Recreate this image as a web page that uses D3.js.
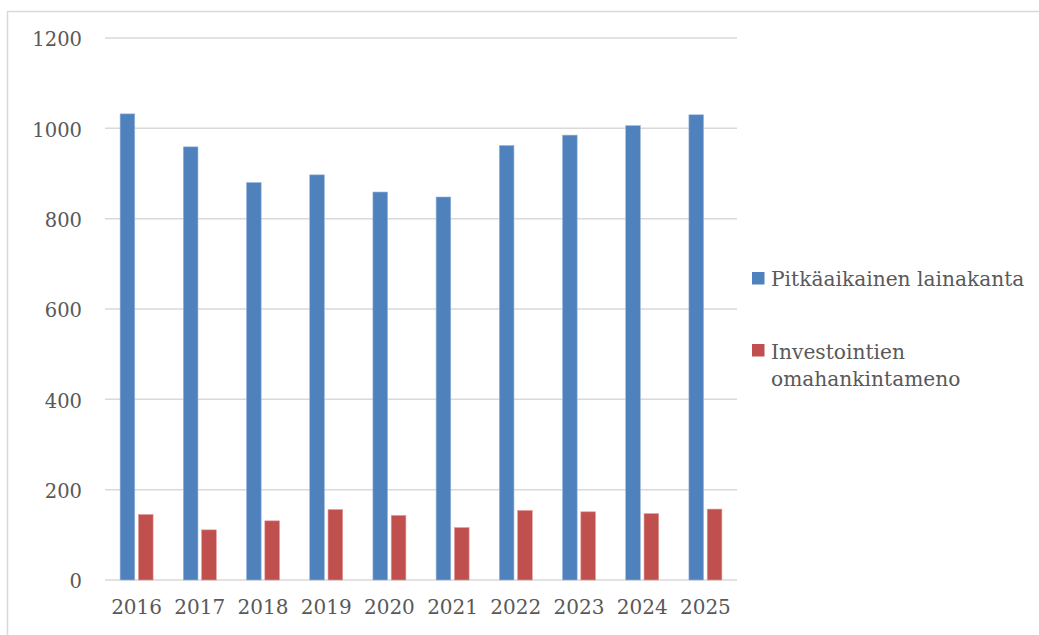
<!DOCTYPE html>
<html>
<head>
<meta charset="utf-8">
<script src="https://cdn.jsdelivr.net/npm/d3@7"></script>
<style>
  html, body { margin: 0; padding: 0; background: #fff; }
  svg { display: block; }
  text { font-family: "DejaVu Serif", serif; fill: #595959; }
</style>
</head>
<body>
<svg id="chart" width="1039" height="635"></svg>
<script>
const years = ["2016","2017","2018","2019","2020","2021","2022","2023","2024","2025"];
const seriesNames = ["Pitkäaikainen lainakanta", "Investointien omahankintameno"];
const lainakanta = [1032, 959, 880, 897, 859, 848, 962, 985, 1006, 1030];
const omahankinta = [145, 111, 131, 156, 143, 116, 154, 151, 147, 157];
const yTicks = [0, 200, 400, 600, 800, 1000, 1200];
const colors = ["#4f81bd", "#c0504d"];
const strokes = ["#9db7dc", "#e39a98"];

const svg = d3.select("#chart");

// outer border
svg.append("rect")
  .attr("x", 7.5).attr("y", 11.5)
  .attr("width", 1040).attr("height", 640)
  .attr("fill", "none").attr("stroke", "#d9d9d9").attr("stroke-width", 1.5);

const plotLeft = 105, plotRight = 737, plotTop = 38, plotBottom = 580;

const y = d3.scaleLinear().domain([0, 1200]).range([plotBottom, plotTop]);
const x0 = d3.scaleBand().domain(years).range([plotLeft, plotRight]).paddingInner(0.478).paddingOuter(0.239);
const x1 = d3.scaleBand().domain([0, 1]).range([0, x0.bandwidth()]).paddingInner(0.2);

// gridlines
svg.append("g").selectAll("line").data(yTicks).join("line")
  .attr("x1", plotLeft).attr("x2", plotRight)
  .attr("y1", d => y(d)).attr("y2", d => y(d))
  .attr("stroke", "#d9d9d9").attr("stroke-width", 1.5);

// y axis labels
const yAxis = d3.axisLeft(y).tickValues(yTicks).tickSize(0).tickPadding(23).tickFormat(d3.format("d"));
const gy = svg.append("g").attr("transform", `translate(${plotLeft},0)`).call(yAxis);
gy.select(".domain").remove();
gy.selectAll("text").attr("font-size", 19.5).attr("font-family", "DejaVu Serif").attr("fill", "#595959")
  .attr("dy", "0.4em");

// x axis labels
const xAxis = d3.axisBottom(x0).tickSize(0).tickPadding(20);
const gx = svg.append("g").attr("transform", `translate(0,${plotBottom})`).call(xAxis);
gx.select(".domain").remove();
gx.selectAll("text").attr("font-size", 20).attr("font-family", "DejaVu Serif").attr("fill", "#595959");

// bars
const data = [lainakanta, omahankinta];
data.forEach((vals, si) => {
  svg.append("g").selectAll("rect").data(vals).join("rect")
    .attr("x", (d, i) => x0(years[i]) + x1(si))
    .attr("width", x1.bandwidth())
    .attr("y", d => y(d))
    .attr("height", d => y(0) - y(d))
    .attr("fill", colors[si])
    .attr("stroke", strokes[si])
    .attr("stroke-width", 0.6);
});

// legend
const leg = svg.append("g");
leg.append("rect").attr("x", 752).attr("y", 272).attr("width", 12.5).attr("height", 12.5).attr("fill", colors[0]);
leg.append("text").attr("x", 771).attr("y", 286).attr("font-size", 20.2).text(seriesNames[0]);
leg.append("rect").attr("x", 752).attr("y", 344).attr("width", 12.5).attr("height", 12.5).attr("fill", colors[1]);
const t2 = leg.append("text").attr("x", 771).attr("y", 359).attr("font-size", 20.2);
t2.append("tspan").attr("x", 771).text("Investointien");
t2.append("tspan").attr("x", 771).attr("dy", 27).text("omahankintameno");
</script>
</body>
</html>
